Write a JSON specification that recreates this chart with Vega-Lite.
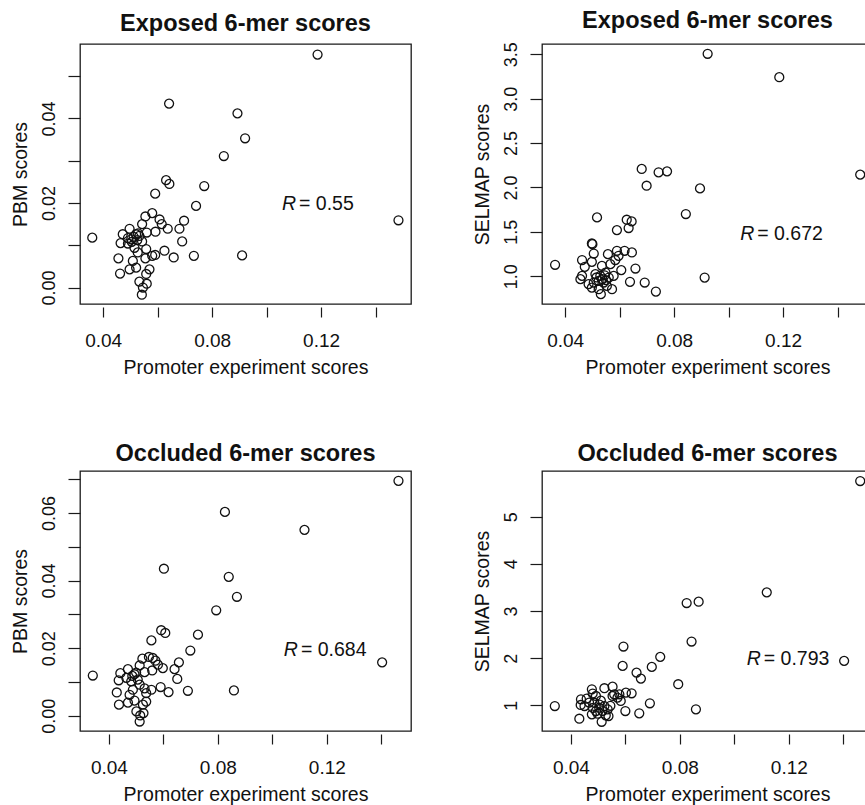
{
  "$schema": "https://vega.github.io/schema/vega-lite/v6.json",
  "padding": {"left": 9, "top": 8, "right": 0, "bottom": 5},
  "background": "white",
  "datasets": {
    "p1": [
      {"x":0.1187,"y":0.0551},{"x":0.0642,"y":0.0435},{"x":0.0893,"y":0.0412},{"x":0.0921,"y":0.0353},
      {"x":0.0843,"y":0.0311},{"x":0.0631,"y":0.0254},{"x":0.0643,"y":0.0245},{"x":0.0771,"y":0.0240},
      {"x":0.0591,"y":0.0222},{"x":0.0741,"y":0.0193},{"x":0.1484,"y":0.0159},{"x":0.0555,"y":0.0168},
      {"x":0.0580,"y":0.0176},{"x":0.0697,"y":0.0158},{"x":0.0607,"y":0.0161},{"x":0.0615,"y":0.0150},
      {"x":0.0543,"y":0.0150},{"x":0.0680,"y":0.0139},{"x":0.0637,"y":0.0139},{"x":0.0592,"y":0.0132},
      {"x":0.0560,"y":0.0130},{"x":0.0497,"y":0.0139},{"x":0.0472,"y":0.0126},{"x":0.0360,"y":0.0118},
      {"x":0.0521,"y":0.0126},{"x":0.0533,"y":0.0122},{"x":0.0503,"y":0.0114},{"x":0.0491,"y":0.0117},
      {"x":0.0543,"y":0.0109},{"x":0.0464,"y":0.0105},{"x":0.0515,"y":0.0094},{"x":0.0690,"y":0.0109},
      {"x":0.0558,"y":0.0091},{"x":0.0625,"y":0.0087},{"x":0.0527,"y":0.0083},{"x":0.0580,"y":0.0075},
      {"x":0.0591,"y":0.0077},{"x":0.0456,"y":0.0069},{"x":0.0555,"y":0.0069},{"x":0.0659,"y":0.0071},
      {"x":0.0733,"y":0.0075},{"x":0.0910,"y":0.0076},{"x":0.0509,"y":0.0063},{"x":0.0570,"y":0.0043},
      {"x":0.0521,"y":0.0047},{"x":0.0497,"y":0.0043},{"x":0.0462,"y":0.0033},{"x":0.0558,"y":0.0032},
      {"x":0.0533,"y":0.0014},{"x":0.0560,"y":0.0009},{"x":0.0546,"y":0.0000},{"x":0.0542,"y":-0.0017},
      {"x":0.0491,"y":0.0104},{"x":0.0512,"y":0.0120},{"x":0.0525,"y":0.0112},{"x":0.0505,"y":0.0108},
      {"x":0.0528,"y":0.0128}
    ],
    "p2": [
      {"x":0.0923,"y":3.506},{"x":0.1186,"y":3.242},{"x":0.1483,"y":2.144},{"x":0.0681,"y":2.208},
      {"x":0.0743,"y":2.170},{"x":0.0774,"y":2.181},{"x":0.0699,"y":2.019},{"x":0.0895,"y":1.989},
      {"x":0.0843,"y":1.700},{"x":0.0517,"y":1.662},{"x":0.0626,"y":1.636},{"x":0.0644,"y":1.617},
      {"x":0.0633,"y":1.542},{"x":0.0590,"y":1.519},{"x":0.0912,"y":0.984},{"x":0.0733,"y":0.826},
      {"x":0.0692,"y":0.928},{"x":0.0658,"y":1.086},{"x":0.0638,"y":0.936},{"x":0.0363,"y":1.128},
      {"x":0.0498,"y":1.368},{"x":0.0500,"y":1.360},{"x":0.0505,"y":1.255},{"x":0.0557,"y":1.248},
      {"x":0.0590,"y":1.286},{"x":0.0618,"y":1.286},{"x":0.0645,"y":1.267},{"x":0.0462,"y":1.181},
      {"x":0.0498,"y":1.161},{"x":0.0584,"y":1.181},{"x":0.0596,"y":1.229},{"x":0.0472,"y":1.105},
      {"x":0.0566,"y":1.135},{"x":0.0535,"y":1.116},{"x":0.0606,"y":1.068},{"x":0.0462,"y":1.003},
      {"x":0.0456,"y":0.966},{"x":0.0511,"y":1.023},{"x":0.0529,"y":1.003},{"x":0.0548,"y":1.041},
      {"x":0.0560,"y":0.984},{"x":0.0578,"y":1.003},{"x":0.0486,"y":0.910},{"x":0.0505,"y":0.928},
      {"x":0.0523,"y":0.947},{"x":0.0541,"y":0.928},{"x":0.0553,"y":0.890},{"x":0.0572,"y":0.853},
      {"x":0.0523,"y":0.853},{"x":0.0531,"y":0.797},{"x":0.0498,"y":0.871},{"x":0.0537,"y":0.965},
      {"x":0.0545,"y":1.010},{"x":0.0515,"y":0.985},{"x":0.0550,"y":0.955}
    ],
    "p3": [
      {"x":0.1463,"y":0.0695},{"x":0.0826,"y":0.0603},{"x":0.1118,"y":0.0550},{"x":0.0602,"y":0.0435},
      {"x":0.0840,"y":0.0411},{"x":0.0870,"y":0.0352},{"x":0.0794,"y":0.0312},{"x":0.0592,"y":0.0253},
      {"x":0.0607,"y":0.0245},{"x":0.0727,"y":0.0240},{"x":0.0556,"y":0.0223},{"x":0.0699,"y":0.0193},
      {"x":0.1403,"y":0.0158},{"x":0.0859,"y":0.0075},{"x":0.0690,"y":0.0074},{"x":0.0341,"y":0.0119},
      {"x":0.0657,"y":0.0158},{"x":0.0641,"y":0.0138},{"x":0.0651,"y":0.0109},{"x":0.0619,"y":0.0070},
      {"x":0.0590,"y":0.0085},{"x":0.0598,"y":0.0141},{"x":0.0580,"y":0.0151},{"x":0.0571,"y":0.0163},
      {"x":0.0547,"y":0.0174},{"x":0.0523,"y":0.0169},{"x":0.0513,"y":0.0149},{"x":0.0559,"y":0.0134},
      {"x":0.0531,"y":0.0129},{"x":0.0494,"y":0.0123},{"x":0.0470,"y":0.0138},{"x":0.0442,"y":0.0126},
      {"x":0.0436,"y":0.0105},{"x":0.0464,"y":0.0112},{"x":0.0482,"y":0.0102},{"x":0.0506,"y":0.0107},
      {"x":0.0513,"y":0.0092},{"x":0.0488,"y":0.0077},{"x":0.0531,"y":0.0081},{"x":0.0556,"y":0.0077},
      {"x":0.0537,"y":0.0067},{"x":0.0429,"y":0.0069},{"x":0.0476,"y":0.0062},{"x":0.0494,"y":0.0045},
      {"x":0.0470,"y":0.0039},{"x":0.0437,"y":0.0033},{"x":0.0537,"y":0.0042},{"x":0.0525,"y":0.0033},
      {"x":0.0501,"y":0.0013},{"x":0.0527,"y":0.0008},{"x":0.0515,"y":0.0001},{"x":0.0513,"y":-0.0017},
      {"x":0.0561,"y":0.0171},{"x":0.0486,"y":0.0118},{"x":0.0500,"y":0.0128}
    ],
    "p4": [
      {"x":0.1462,"y":5.757},{"x":0.1119,"y":3.396},{"x":0.0825,"y":3.170},{"x":0.0869,"y":3.198},
      {"x":0.0843,"y":2.353},{"x":0.0593,"y":2.247},{"x":0.0728,"y":2.028},{"x":0.0697,"y":1.815},
      {"x":0.0590,"y":1.836},{"x":0.0641,"y":1.694},{"x":0.0657,"y":1.566},{"x":0.0794,"y":1.447},
      {"x":0.1403,"y":1.943},{"x":0.0859,"y":0.915},{"x":0.0690,"y":1.043},{"x":0.0651,"y":0.830},
      {"x":0.0600,"y":0.879},{"x":0.0341,"y":0.985},{"x":0.0431,"y":0.715},{"x":0.0513,"y":0.651},
      {"x":0.0623,"y":1.255},{"x":0.0602,"y":1.268},{"x":0.0578,"y":1.234},{"x":0.0553,"y":1.396},
      {"x":0.0523,"y":1.362},{"x":0.0477,"y":1.340},{"x":0.0559,"y":1.234},{"x":0.0583,"y":1.092},
      {"x":0.0571,"y":1.162},{"x":0.0553,"y":1.198},{"x":0.0492,"y":1.198},{"x":0.0458,"y":1.141},
      {"x":0.0437,"y":1.128},{"x":0.0467,"y":1.056},{"x":0.0436,"y":1.007},{"x":0.0450,"y":0.985},
      {"x":0.0481,"y":0.943},{"x":0.0505,"y":1.013},{"x":0.0523,"y":0.985},{"x":0.0535,"y":0.915},
      {"x":0.0516,"y":0.879},{"x":0.0492,"y":0.879},{"x":0.0477,"y":0.809},{"x":0.0498,"y":0.821},
      {"x":0.0528,"y":0.787},{"x":0.0538,"y":0.772},{"x":0.0504,"y":0.949},{"x":0.0486,"y":1.055},
      {"x":0.0480,"y":1.250},{"x":0.0510,"y":1.100},{"x":0.0545,"y":0.990}
    ]
  },
  "concat": [
    {
      "title": {"text": "Exposed 6-mer scores", "offset": 9},
      "width": 331, "height": 260,
      "encoding": {
        "x": {"field": "x", "type": "quantitative",
          "scale": {"domain": [0.0315, 0.153], "nice": false, "zero": false},
          "axis": {"title": "Promoter experiment scores", "values": [0.04,0.06,0.08,0.1,0.12,0.14],
            "labelExpr": "round(datum.value*100)%4==0 ? format(datum.value,'.2f') : ''"}},
        "y": {"field": "y", "type": "quantitative",
          "scale": {"domain": [-0.0039, 0.0576], "nice": false, "zero": false},
          "axis": {"title": "PBM scores", "values": [0,0.01,0.02,0.03,0.04,0.05],
            "labelExpr": "round(datum.value*100)%2==0 ? format(datum.value,'.2f') : ''"}}
      },
      "layer": [
        {"data": {"name": "p1"}, "mark": {"type": "point", "shape": "circle", "filled": false, "size": 80, "stroke": "#111", "strokeWidth": 1.3, "opacity": 1}},
        {"data": {"values": [{"x": 0.1108, "y": 0.0197, "t": "= 0.55"}]},
          "mark": {"type": "text", "align": "right", "baseline": "middle", "fontStyle": "italic", "fontSize": 19.5, "color": "#111"},
          "encoding": {"text": {"value": "R"}}},
        {"data": {"values": [{"x": 0.1108, "y": 0.0197, "t": "= 0.55"}]},
          "mark": {"type": "text", "align": "left", "baseline": "middle", "dx": 3, "fontSize": 19.5, "color": "#111"},
          "encoding": {"text": {"field": "t"}}}
      ]
    },
    {
      "title": {"text": "Exposed 6-mer scores", "offset": 9},
      "width": 331, "height": 260,
      "encoding": {
        "x": {"field": "x", "type": "quantitative",
          "scale": {"domain": [0.0315, 0.153], "nice": false, "zero": false},
          "axis": {"title": "Promoter experiment scores", "values": [0.04,0.06,0.08,0.1,0.12,0.14],
            "labelExpr": "round(datum.value*100)%4==0 ? format(datum.value,'.2f') : ''"}},
        "y": {"field": "y", "type": "quantitative",
          "scale": {"domain": [0.686, 3.616], "nice": false, "zero": false},
          "axis": {"title": "SELMAP scores", "values": [1,1.5,2,2.5,3,3.5], "format": ".1f"}}
      },
      "layer": [
        {"data": {"name": "p2"}, "mark": {"type": "point", "shape": "circle", "filled": false, "size": 80, "stroke": "#111", "strokeWidth": 1.3, "opacity": 1}},
        {"data": {"values": [{"x": 0.1094, "y": 1.474, "t": "= 0.672"}]},
          "mark": {"type": "text", "align": "right", "baseline": "middle", "fontStyle": "italic", "fontSize": 19.5, "color": "#111"},
          "encoding": {"text": {"value": "R"}}},
        {"data": {"values": [{"x": 0.1094, "y": 1.474, "t": "= 0.672"}]},
          "mark": {"type": "text", "align": "left", "baseline": "middle", "dx": 3, "fontSize": 19.5, "color": "#111"},
          "encoding": {"text": {"field": "t"}}}
      ]
    },
    {
      "title": {"text": "Occluded 6-mer scores", "offset": 5.5},
      "width": 331, "height": 260,
      "encoding": {
        "x": {"field": "x", "type": "quantitative",
          "scale": {"domain": [0.0294, 0.1509], "nice": false, "zero": false},
          "axis": {"title": "Promoter experiment scores", "values": [0.04,0.06,0.08,0.1,0.12,0.14],
            "labelExpr": "round(datum.value*100)%4==0 ? format(datum.value,'.2f') : ''"}},
        "y": {"field": "y", "type": "quantitative",
          "scale": {"domain": [-0.0045, 0.0724], "nice": false, "zero": false},
          "axis": {"title": "PBM scores", "values": [0,0.01,0.02,0.03,0.04,0.05,0.06,0.07],
            "labelExpr": "round(datum.value*100)%2==0 ? format(datum.value,'.2f') : ''"}}
      },
      "layer": [
        {"data": {"name": "p3"}, "mark": {"type": "point", "shape": "circle", "filled": false, "size": 80, "stroke": "#111", "strokeWidth": 1.3, "opacity": 1}},
        {"data": {"values": [{"x": 0.1094, "y": 0.0196, "t": "= 0.684"}]},
          "mark": {"type": "text", "align": "right", "baseline": "middle", "fontStyle": "italic", "fontSize": 19.5, "color": "#111"},
          "encoding": {"text": {"value": "R"}}},
        {"data": {"values": [{"x": 0.1094, "y": 0.0196, "t": "= 0.684"}]},
          "mark": {"type": "text", "align": "left", "baseline": "middle", "dx": 3, "fontSize": 19.5, "color": "#111"},
          "encoding": {"text": {"field": "t"}}}
      ]
    },
    {
      "title": {"text": "Occluded 6-mer scores", "offset": 5.5},
      "width": 331, "height": 260,
      "encoding": {
        "x": {"field": "x", "type": "quantitative",
          "scale": {"domain": [0.0294, 0.1509], "nice": false, "zero": false},
          "axis": {"title": "Promoter experiment scores", "values": [0.04,0.06,0.08,0.1,0.12,0.14],
            "labelExpr": "round(datum.value*100)%4==0 ? format(datum.value,'.2f') : ''"}},
        "y": {"field": "y", "type": "quantitative",
          "scale": {"domain": [0.455, 5.97], "nice": false, "zero": false},
          "axis": {"title": "SELMAP scores", "values": [1,2,3,4,5], "format": "d"}}
      },
      "layer": [
        {"data": {"name": "p4"}, "mark": {"type": "point", "shape": "circle", "filled": false, "size": 80, "stroke": "#111", "strokeWidth": 1.3, "opacity": 1}},
        {"data": {"values": [{"x": 0.1097, "y": 1.979, "t": "= 0.793"}]},
          "mark": {"type": "text", "align": "right", "baseline": "middle", "fontStyle": "italic", "fontSize": 19.5, "color": "#111"},
          "encoding": {"text": {"value": "R"}}},
        {"data": {"values": [{"x": 0.1097, "y": 1.979, "t": "= 0.793"}]},
          "mark": {"type": "text", "align": "left", "baseline": "middle", "dx": 3, "fontSize": 19.5, "color": "#111"},
          "encoding": {"text": {"field": "t"}}}
      ]
    }
  ],
  "columns": 2,
  "spacing": {"row": 167, "column": 131},
  "bounds": "flush",
  "config": {
    "font": "Liberation Sans",
    "view": {"stroke": "#1a1a1a", "strokeWidth": 1.3},
    "text": {"font": "Liberation Sans"},
    "title": {"font": "Liberation Sans", "fontSize": 23.5, "fontWeight": "bold", "color": "#111", "baseline": "alphabetic", "anchor": "middle"},
    "axis": {"grid": false, "domain": false, "tickColor": "#1a1a1a", "tickWidth": 1.2,
      "labelFont": "Liberation Sans", "labelColor": "#111", "titleFont": "Liberation Sans",
      "titleFontWeight": "normal", "titleColor": "#111", "labelOverlap": false, "labelFlush": false},
    "axisX": {"tickSize": 10, "offset": 3, "labelFontSize": 19, "titleFontSize": 19.5, "labelPadding": 14, "titlePadding": 8},
    "axisY": {"tickSize": 12, "labelAngle": -90, "labelAlign": "center", "labelBaseline": "alphabetic", "labelPadding": 14, "labelFontSize": 18, "titleFontSize": 19.5, "titlePadding": 10}
  }
}
